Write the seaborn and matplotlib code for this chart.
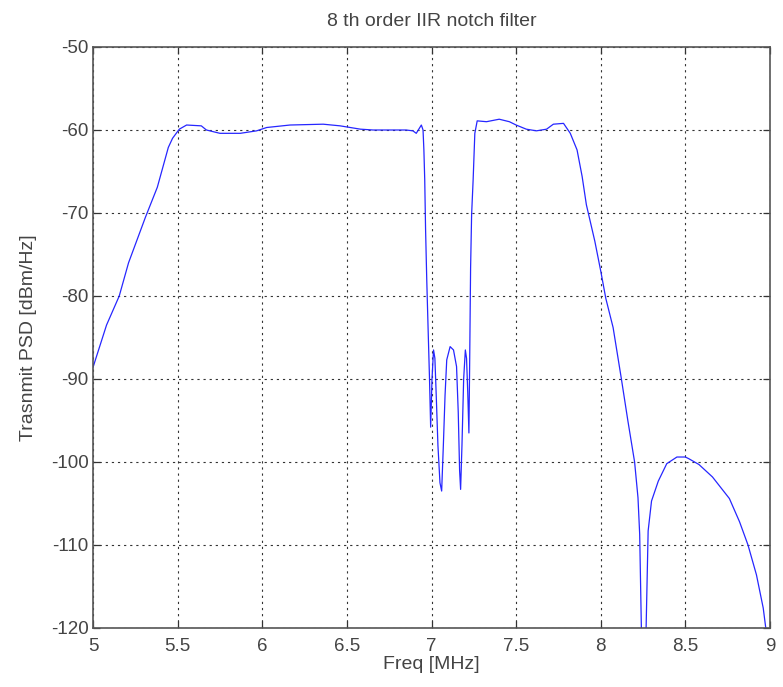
import matplotlib
matplotlib.use("Agg")
import matplotlib.pyplot as plt
import seaborn as sns
import pandas as pd

freq_mhz = [5.0, 5.08, 5.155, 5.21, 5.31, 5.38, 5.445, 5.47, 5.51, 5.553, 5.64,
            5.67, 5.75, 5.87, 5.967, 6.026, 6.164, 6.36, 6.46, 6.58, 6.655, 6.85,
            6.89, 6.91, 6.94, 6.95, 6.955, 6.96, 6.965, 6.972, 6.98, 6.988, 6.995,
            7.003, 7.012, 7.02, 7.028, 7.038, 7.05, 7.06, 7.07, 7.08, 7.09, 7.11,
            7.13, 7.148, 7.158, 7.166, 7.172, 7.18, 7.19, 7.2, 7.207, 7.214, 7.221,
            7.225, 7.231, 7.237, 7.246, 7.256, 7.27, 7.325, 7.4, 7.46, 7.5, 7.56,
            7.62, 7.68, 7.72, 7.78, 7.82, 7.86, 7.89, 7.915, 7.965, 8.0, 8.03,
            8.073, 8.122, 8.16, 8.2, 8.22, 8.23, 8.24, 8.252, 8.262, 8.268, 8.28,
            8.3, 8.34, 8.39, 8.45, 8.5, 8.52, 8.58, 8.66, 8.76, 8.82, 8.87, 8.92,
            8.96, 8.975, 8.99]
psd_dbm_hz = [-88.6, -83.5, -80.0, -76.0, -70.5, -66.9, -62.1, -61.0, -59.9, -59.4, -59.5,
              -60.0, -60.4, -60.4, -60.1, -59.7, -59.4, -59.3, -59.5, -59.9, -60.0, -60.0,
              -60.1, -60.4, -59.4, -60.0, -62.4, -66.0, -72.0, -78.1, -84.0, -89.8, -95.8,
              -90.0, -86.5, -87.5, -92.0, -98.0, -102.5, -103.5, -98.0, -92.0, -87.7, -86.1,
              -86.5, -88.5, -94.0, -101.0, -103.3, -98.0, -90.0, -86.5, -87.5, -91.5, -96.5,
              -89.0, -76.6, -70.2, -66.0, -60.4, -58.9, -59.0, -58.7, -59.0, -59.4, -59.9,
              -60.1, -59.9, -59.3, -59.2, -60.4, -62.4, -65.6, -69.0, -73.4, -77.0, -80.3,
              -83.8, -90.0, -95.0, -100.0, -104.3, -108.7, -120.0, -130.0, -125.0, -120.0, -108.3,
              -104.7, -102.3, -100.2, -99.4, -99.4, -99.6, -100.3, -101.8, -104.4, -107.2, -110.0, -113.6,
              -117.6, -120.0, -123.0]

x_ticks = [5, 5.5, 6, 6.5, 7, 7.5, 8, 8.5, 9]
x_tick_labels = ["5", "5.5", "6", "6.5", "7", "7.5", "8", "8.5", "9"]
y_ticks = [-120, -110, -100, -90, -80, -70, -60, -50]
y_tick_labels = ["-120", "-110", "-100", "-90", "-80", "-70", "-60", "-50"]

sns.set_style("white")
plt.rcParams['font.family'] = ['Liberation Sans Narrow', 'Liberation Sans', 'DejaVu Sans']

df = pd.DataFrame({"freq": freq_mhz, "psd": psd_dbm_hz})

fig = plt.figure(figsize=(7.83, 6.87), dpi=100)
ax = fig.add_axes([93/783, 1 - 628/687, (770 - 93)/783, (628 - 47)/687])

sns.lineplot(data=df, x="freq", y="psd", ax=ax, color=(0.15, 0.15, 1.0),
             linewidth=0.9, sort=False, estimator=None)

ax.set_xlim(5, 9)
ax.set_ylim(-120, -50)
ax.set_xticks(x_ticks)
ax.set_xticklabels(x_tick_labels)
ax.set_yticks(y_ticks)
ax.set_yticklabels(y_tick_labels)

ax.grid(True, color='#333333', linestyle=(0, (2, 3.5)), linewidth=0.8)
for s in ax.spines.values():
    s.set_visible(True)
    s.set_color('#555555')
    s.set_linewidth(1.2)

ax.tick_params(direction='in', length=5, width=0.9, color='#333333',
               top=True, right=True, bottom=True, left=True,
               labelsize=13.5, labelcolor='#444444', pad=3)
ax.tick_params(axis='x', pad=7)

ax.set_xlabel("Freq [MHz]", fontsize=14, color='#444444', labelpad=1)
ax.set_ylabel("Trasnmit PSD [dBm/Hz]", fontsize=14, color='#444444', labelpad=10)
ax.set_title("8 th order IIR notch filter", fontsize=14, color='#444444', pad=15)

fig.savefig("out.png", dpi=100, facecolor='white')
